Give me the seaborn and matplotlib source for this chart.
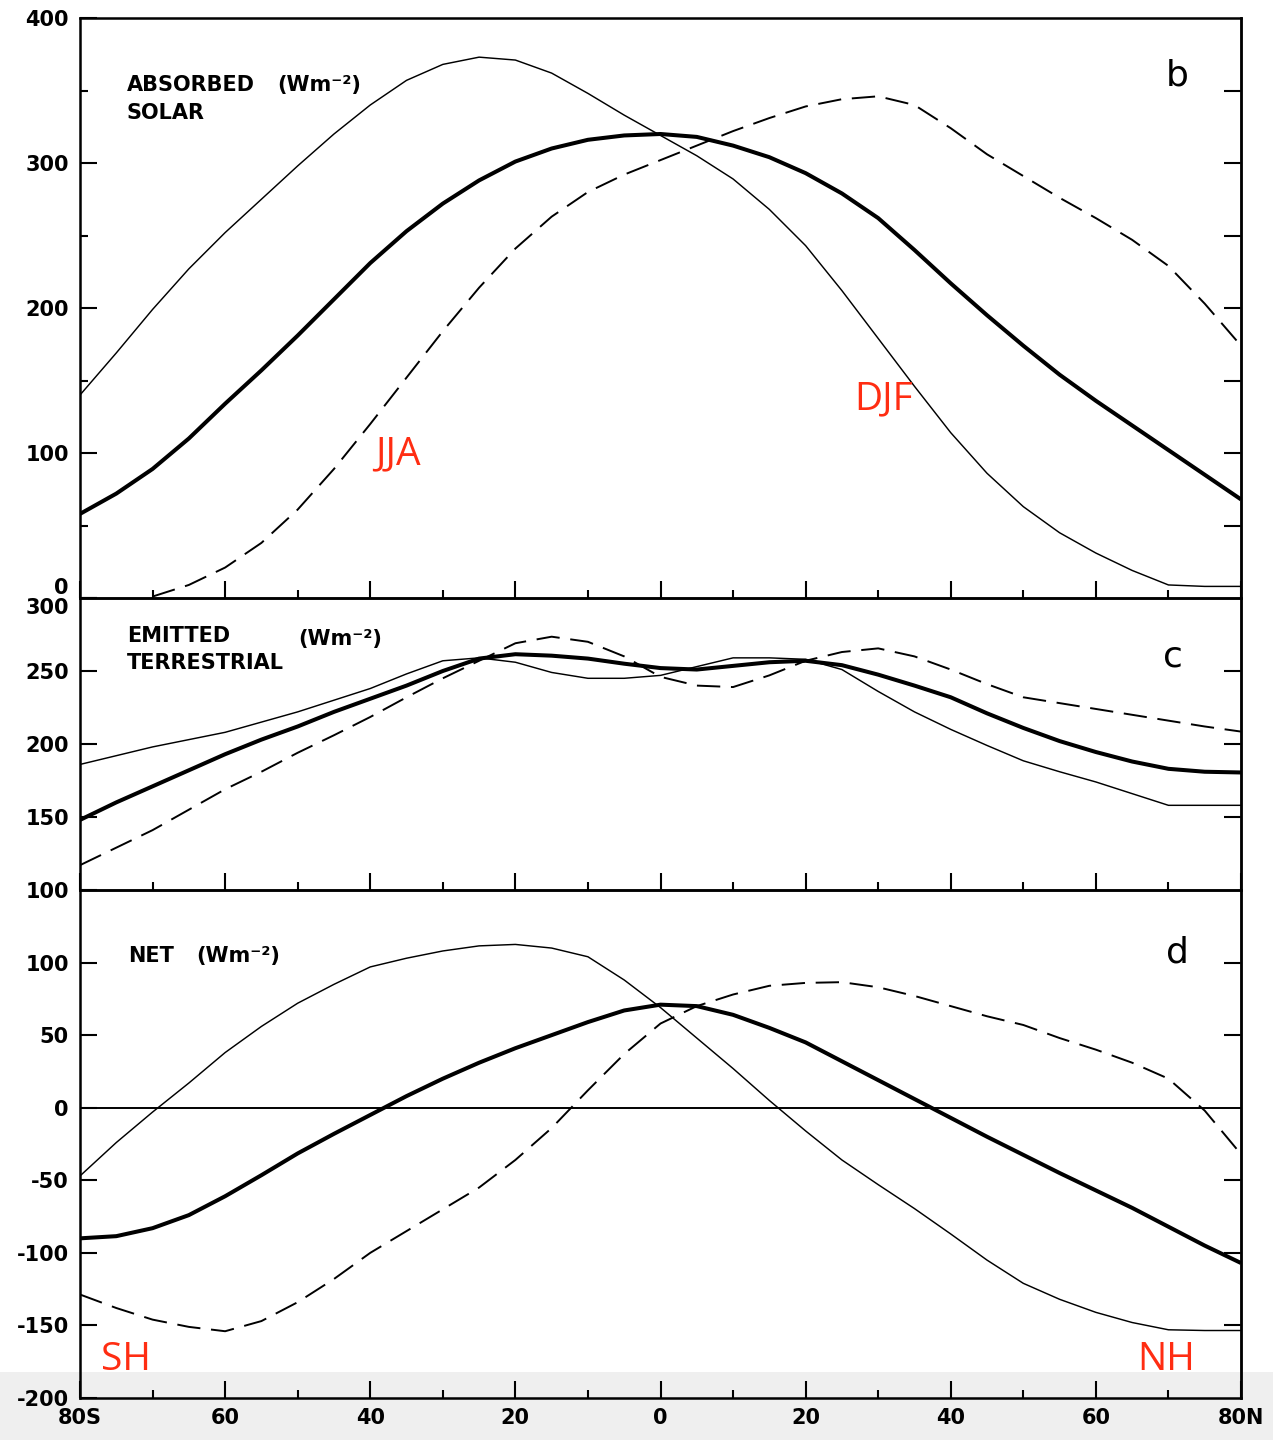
import numpy as np
import pandas as pd
import matplotlib
matplotlib.use("Agg")
import matplotlib.pyplot as plt
from matplotlib.patches import Rectangle
import seaborn as sns

# Zonal-mean radiation budget (W m^-2) by latitude, 80S..80N every 5 degrees
lat = np.arange(-80, 81, 5)

# (b) absorbed solar
solar_ann = [58, 72, 89, 110, 134, 157, 181, 206, 231, 253, 272, 288, 301, 310, 316, 319,
             320, 318, 312, 304, 293, 279, 262, 240, 217, 195, 174, 154, 136, 119, 102, 85, 68]
solar_djf = [140, 169, 199, 227, 252, 275, 298, 320, 340, 357, 368, 373, 371, 362, 348, 333,
             319, 305, 289, 268, 243, 212, 179, 146, 114, 86, 63, 45, 31, 19, 9, 8, 8]
solar_jja = [np.nan, np.nan, 1, 9, 21, 38, 61, 89, 120, 152, 184, 214, 241, 263, 280, 292,
             302, 312, 322, 331, 339, 344, 346, 340, 324, 306, 291, 276, 262, 247, 229, 203, 174]

# (c) emitted terrestrial
olr_ann = [148, 160, 171, 182, 193, 203, 212, 222, 231, 240, 250, 258.5, 261.5, 260.5, 258.5, 255,
           252, 251, 253.5, 256, 257, 254, 247.5, 240, 232, 221, 211, 202, 194.5, 188, 183, 181, 180.5]
olr_djf = [186, 192, 198, 203, 208, 215, 222, 230, 238, 248, 257, 259, 256, 249, 245, 245,
           247, 253, 259, 259, 258, 251, 236, 222, 210, 199, 188.5, 181, 174, 166, 158, 158, 158]
olr_jja = [117, 129, 141, 155, 169, 181, 194, 206, 218.5, 232, 245, 257, 269, 273.5, 270, 260,
           246, 240, 239, 247, 257, 263, 265.5, 260, 251, 241, 232, 228, 224, 220, 216, 212, 208.5]

# (d) net radiation
net_ann = [-90, -88.5, -83, -74, -61, -46.5, -31.5, -18, -5, 8, 20, 31, 41, 50, 59, 67,
           71, 70, 64, 55, 45, 32, 19, 6, -7, -20, -32.5, -45, -57, -69, -82, -95, -107]
net_djf = [-47, -24, -3, 17, 38, 56, 72, 85, 97, 103, 108, 111.5, 112.5, 110, 104, 88,
           69, 48, 27, 5, -16, -36, -53, -69.5, -87, -105, -121, -132, -141, -148, -153, -153.5, -153.5]
net_jja = [-128.7, -138, -146, -151, -154, -147, -134, -118, -100, -85, -70, -55, -36, -14, 12, 37,
           58, 70, 78, 84, 86, 86.5, 83, 77, 70, 63, 57, 48, 40, 31, 20, -2, -32]

x_major = [-80, -60, -40, -20, 0, 20, 40, 60, 80]
x_minor = [-70, -50, -30, -10, 10, 30, 50, 70]
x_labels = ["80S", "60", "40", "20", "0", "20", "40", "60", "80N"]

b_yticks = [0, 100, 200, 300, 400]
b_yminor = [50, 150, 250, 350]
b_right = [50, 100, 150, 200, 250, 300, 350]
c_yticks = [100, 150, 200, 250, 300]
c_right = [150, 200, 250]
d_yticks = [-200, -150, -100, -50, 0, 50, 100]
d_right = [-150, -100, -50, 50, 100]

RED = "#ff2d12"


def long_table(ann, djf, jja):
    parts = []
    for name, vals in (("ANN", ann), ("DJF", djf), ("JJA", jja)):
        parts.append(pd.DataFrame({"lat": lat, "value": vals, "season": name}))
    return pd.concat(parts, ignore_index=True)


tables = {
    "b": long_table(solar_ann, solar_djf, solar_jja),
    "c": long_table(olr_ann, olr_djf, olr_jja),
    "d": long_table(net_ann, net_djf, net_jja),
}

sns.set_theme(style="ticks")
plt.rcParams["font.family"] = ["DejaVu Sans"]
plt.rcParams["axes.facecolor"] = "none"

W, H = 1273, 1440
fig = plt.figure(figsize=(W / 100, H / 100), dpi=100, facecolor="white")

# light scanner band along the bottom edge
fig.add_artist(Rectangle((0, 0), 1, (H - 1372) / H, transform=fig.transFigure,
                         facecolor="#efefef", edgecolor="none", zorder=-5))


def frame(left, top, right, bottom):
    return fig.add_axes([left / W, 1 - bottom / H, (right - left) / W, (bottom - top) / H])


ax_b = frame(80, 18, 1241, 598)
ax_c = frame(80, 598, 1241, 890)
ax_d = frame(80, 890, 1241, 1398)

styles = {
    "ANN": dict(lw=2.9, linestyle="-"),
    "DJF": dict(lw=1.05, linestyle="-"),
    "JJA": dict(lw=1.4, linestyle=(0, (12, 5.5))),
}

for key, ax in (("b", ax_b), ("c", ax_c), ("d", ax_d)):
    df = tables[key]
    for season in ("JJA", "DJF", "ANN"):
        sub = df[df["season"] == season].dropna()
        sns.lineplot(data=sub, x="lat", y="value", ax=ax, color="black",
                     estimator=None, solid_capstyle="butt", solid_joinstyle="round",
                     dash_joinstyle="round", **styles[season])

ax_d.axhline(0, color="black", lw=1.4, zorder=1)


def style_panel(ax, ylim, yticks, yminor, right_ticks, show_x):
    ax.set_xlim(-80, 80)
    ax.set_ylim(*ylim)
    ax.set_xlabel("")
    ax.set_ylabel("")
    for s in ax.spines.values():
        s.set_visible(True)
        s.set_linewidth(1.8)
        s.set_color("black")
    ax.set_xticks(x_major)
    ax.set_xticks(x_minor, minor=True)
    ax.set_yticks(yticks, labels=[str(v) for v in yticks])
    ax.set_yticks(yminor, minor=True)
    ax.tick_params(axis="both", which="major", direction="in", length=12, width=1.5,
                   top=False, right=False, color="black")
    ax.tick_params(axis="both", which="minor", direction="in", length=6, width=1.5,
                   top=False, right=False, color="black")
    ax.tick_params(axis="y", which="major", pad=8, labelsize=15, labelcolor="black")
    ax.tick_params(axis="x", which="major", pad=7, labelsize=15, labelcolor="black",
                   labelbottom=show_x)
    if show_x:
        ax.set_xticklabels(x_labels)
        for t in ax.get_xticklabels():
            t.set_fontweight("bold")
    for t in ax.get_yticklabels():
        t.set_fontweight("bold")
    sec = ax.secondary_yaxis("right")
    sec.set_yticks(right_ticks, labels=[])
    sec.tick_params(axis="y", direction="in", length=12, width=1.5, color="black")
    sec.spines["right"].set_linewidth(1.8)


style_panel(ax_b, (0, 400), b_yticks, b_yminor, b_right, False)
style_panel(ax_c, (100, 300), c_yticks, [], c_right, False)
style_panel(ax_d, (-200, 150), d_yticks, [], d_right, True)

# keep the two labels at the b/c boundary apart
ax_b.get_yticklabels()[0].set_verticalalignment("bottom")
ax_c.get_yticklabels()[-1].set_verticalalignment("top")

label_kw = dict(fontsize=15, fontweight="bold", color="black", va="baseline", ha="left")
ax_b.text(0.0402, 0.874, "ABSORBED", transform=ax_b.transAxes, **label_kw)
ax_b.text(0.1697, 0.874, "(Wm\u207b\u00b2)", transform=ax_b.transAxes, **label_kw)
ax_b.text(0.0402, 0.8253, "SOLAR", transform=ax_b.transAxes, **label_kw)

ax_c.text(0.0408, 0.848, "EMITTED", transform=ax_c.transAxes, **label_kw)
ax_c.text(0.1878, 0.839, "(Wm\u207b\u00b2)", transform=ax_c.transAxes, **label_kw)
ax_c.text(0.0408, 0.757, "TERRESTRIAL", transform=ax_c.transAxes, **label_kw)

ax_d.text(0.0412, 0.8577, "NET", transform=ax_d.transAxes, **label_kw)
ax_d.text(0.1005, 0.8577, "(Wm\u207b\u00b2)", transform=ax_d.transAxes, **label_kw)

letter_kw = dict(fontsize=26, color="black", va="baseline", ha="center")
ax_b.text(0.945, 0.883, "b", transform=ax_b.transAxes, **letter_kw)
ax_c.text(0.9414, 0.764, "c", transform=ax_c.transAxes, **letter_kw)
ax_d.text(0.945, 0.858, "d", transform=ax_d.transAxes, **letter_kw)

red_kw = dict(fontsize=28, color=RED, family=["Open Sans", "DejaVu Sans"],
              ha="center", va="baseline")
ax_b.text(-36.2, 92, "JJA", **red_kw)
ax_b.text(30.7, 130, "DJF", **red_kw)
ax_d.text(-73.6, -181, "SH", **red_kw)
ax_d.text(69.7, -181, "NH", **red_kw)

fig.savefig("out.png", dpi=100, facecolor="white")
